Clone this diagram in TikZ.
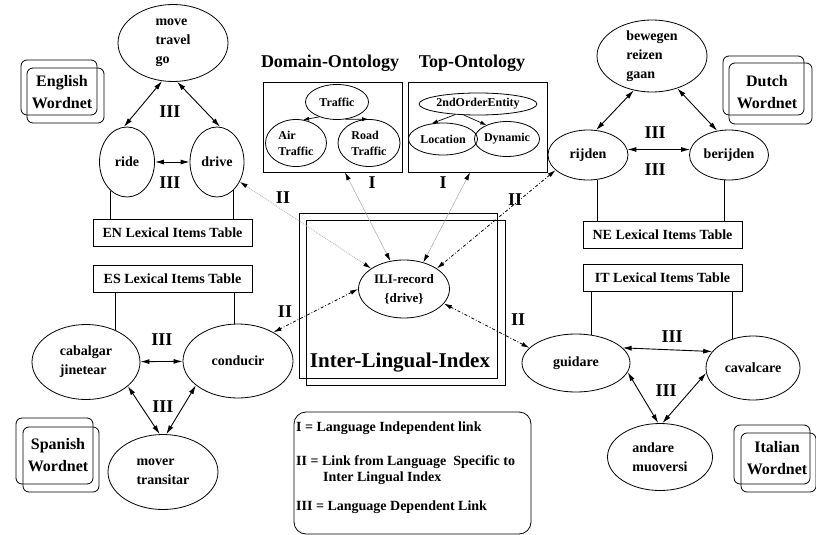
\documentclass[tikz,border=0pt]{standalone}
\usepackage{fontspec}
\setmainfont{Liberation Serif}
\usetikzlibrary{arrows.meta,shapes.geometric,positioning}

\tikzset{
  syn/.style={draw, ellipse, line width=0.8pt, inner sep=0pt, align=left,
    font=\fontsize{14}{19}\selectfont\bfseries},
  ontosyn/.style={syn, font=\fontsize{12}{16}\selectfont\bfseries},
  lexbox/.style={draw, line width=0.8pt, minimum width=159pt, minimum height=27pt,
    inner sep=0pt, font=\fontsize{14}{17}\selectfont\bfseries},
  ontobox/.style={draw, line width=0.8pt, minimum width=139pt, minimum height=90pt},
  iliframe/.style={draw, line width=0.9pt, minimum width=198pt, minimum height=165pt},
  wnframe/.style={draw, line width=0.8pt, rounded corners=6pt, inner sep=0pt},
  wntext/.style={align=center, inner sep=0pt, font=\fontsize{16}{22}\selectfont\bfseries},
  linklbl/.style={inner sep=0pt, font=\fontsize{18}{20}\selectfont\bfseries},
  ontotitle/.style={inner sep=0pt, font=\fontsize{18}{20}\selectfont\bfseries},
  legtext/.style={anchor=west, inner sep=0pt, align=left,
    font=\fontsize{14}{16}\selectfont\bfseries},
  rel/.style={{Latex[length=9pt,width=5pt]}-{Latex[length=9pt,width=5pt]}, line width=0.9pt},
  isa/.style={-{Latex[length=6pt,width=4pt]}, line width=0.7pt},
  ili/.style={{Latex[length=8pt,width=4.5pt,color=black]}-{Latex[length=8pt,width=4.5pt,color=black]}},
  ontolink/.style={ili, draw=gray!70, line width=0.5pt},
  enlink/.style={ili, draw=gray!55, line width=0.9pt, densely dotted},
  langlink/.style={ili, line width=0.8pt, dash dot},
}

\begin{document}
\begin{tikzpicture}[x=1pt,y=-1pt]
\useasboundingbox (0,0) rectangle (816,535);

\node[syn, minimum width=110pt, minimum height=77pt] (move) at (173,43) {move\\travel\\go};
\node[syn, minimum width=55pt, minimum height=70pt] (ride) at (127,162) {ride};
\node[syn, minimum width=54pt, minimum height=70pt] (drive) at (217,162) {drive};
\node[lexbox] (enlex) at (172.5,233) {EN Lexical Items Table};
\node[wnframe, minimum width=76pt, minimum height=55pt] (enwn) at (59,87.5) {};
\node[wnframe, minimum width=77pt, minimum height=55pt] (enwn2) at (65.5,95.5) {};
\node[wntext] (enwnlbl) at (62,92) {English\\Wordnet};

\node[lexbox] (eslex) at (172.5,278.5) {ES Lexical Items Table};
\node[syn, minimum width=108pt, minimum height=75pt] (cabalgar) at (86,362) {cabalgar\\jinetear};
\node[syn, minimum width=110pt, minimum height=74pt] (conducir) at (238,361) {conducir};
\node[syn, minimum width=110pt, minimum height=75pt] (mover) at (163,472) {mover\\transitar};
\node[wnframe, minimum width=77pt, minimum height=66pt] (eswn) at (54.5,451) {};
\node[wnframe, minimum width=76pt, minimum height=65pt] (eswn2) at (61,459.5) {};
\node[wntext] (eswnlbl) at (58,455) {Spanish\\Wordnet};

\node[syn, minimum width=110pt, minimum height=72pt] (bewegen) at (652,56) {bewegen\\reizen\\gaan};
\node[syn, minimum width=80pt, minimum height=50pt] (rijden) at (588,155) {rijden};
\node[syn, minimum width=79pt, minimum height=50pt] (berijden) at (729,155) {berijden};
\node[lexbox] (nelex) at (662.5,235) {NE Lexical Items Table};
\node[wnframe, minimum width=81pt, minimum height=59pt] (nlwn) at (763.5,85.5) {};
\node[wnframe, minimum width=83pt, minimum height=61pt] (nlwn2) at (770.5,93.5) {};
\node[wntext] (nlwnlbl) at (767,92) {Dutch\\Wordnet};

\node[lexbox] (itlex) at (662.5,277.5) {IT Lexical Items Table};
\node[syn, minimum width=108pt, minimum height=58pt] (guidare) at (576,363) {guidare};
\node[syn, minimum width=94pt, minimum height=64pt] (cavalcare) at (753,368) {cavalcare};
\node[syn, minimum width=105pt, minimum height=67pt] (andare) at (660,457) {andare\\muoversi};
\node[wnframe, minimum width=76pt, minimum height=59pt] (itwn) at (772,454.5) {};
\node[wnframe, minimum width=75pt, minimum height=59pt] (itwn2) at (778.5,462.5) {};
\node[wntext] (itwnlbl) at (777,458) {Italian\\Wordnet};

\node[ontotitle] (domaintitle) at (330,63) {Domain-Ontology};
\node[ontotitle] (toptitle) at (472,63) {Top-Ontology};
\node[ontobox] (domainbox) at (332.5,127) {};
\node[ontobox] (topbox) at (477.5,127) {};
\node[ontosyn, minimum width=63pt, minimum height=35pt] (traffic) at (337,102) {Traffic};
\node[ontosyn, minimum width=61pt, minimum height=47pt] (air) at (296,143) {Air\\Traffic};
\node[ontosyn, minimum width=62pt, minimum height=47pt] (road) at (369,143) {Road\\Traffic};
\node[ontosyn, minimum width=107pt, minimum height=22pt] (second) at (478,104) {2ndOrderEntity};
\node[ontosyn, minimum width=69pt, minimum height=32pt] (location) at (443,139) {Location};
\node[ontosyn, minimum width=60pt, minimum height=35pt] (dynamic) at (507,139) {Dynamic};

\node[iliframe] (iliA) at (398,295.5) {};
\node[iliframe, minimum width=199pt] (iliB) at (405.5,302.5) {};
\node[inner sep=0pt, font=\fontsize{21}{24}\selectfont\bfseries] (ilititle) at (400,363) {Inter-Lingual-Index};
\node[syn, align=center, minimum width=91pt, minimum height=58pt,
  font=\fontsize{13}{19}\selectfont\bfseries] (ili) at (404,289) {ILI-record\\\{drive\}};

\node[draw, line width=0.8pt, rounded corners=12pt, minimum width=237pt, minimum height=122pt] (legend) at (412.5,473) {};
\node[legtext] (legI) at (296,428) {I = Language Independent link};
\node[legtext] (legII) at (296,470) {II = Link from Language\ \ Specific to\\\hspace*{27pt}Inter Lingual Index};
\node[legtext] (legIII) at (296,507) {III = Language Dependent Link};

\draw[rel] (move.254) -- (ride.95);
\draw[rel] (move.276) -- (drive.85);
\draw[rel] (ride) -- (drive);
\draw[line width=0.8pt] (ride.240) -- (ride.240 |- enlex.north);
\draw[line width=0.8pt] (drive.300) -- (drive.300 |- enlex.north);
\draw[line width=0.8pt] (cabalgar.48) -- (cabalgar.48 |- eslex.south);
\draw[line width=0.8pt] (conducir.95) -- (conducir.95 |- eslex.south);
\draw[rel] (cabalgar) -- (conducir);
\draw[rel] (cabalgar.-30) -- (mover.95);
\draw[rel] (conducir.210) -- (mover.85);

\draw[rel] (bewegen.242) -- (rijden.72);
\draw[rel] (bewegen.-52) -- (berijden.116);
\draw[rel] (rijden.8) -- (berijden.172);
\draw[line width=0.8pt] (rijden.-70) -- (rijden.-70 |- nelex.north);
\draw[line width=0.8pt] (berijden.-100) -- (berijden.-100 |- nelex.north);
\draw[line width=0.8pt] (guidare.62) -- (guidare.62 |- itlex.south);
\draw[line width=0.8pt] (cavalcare.126) -- (cavalcare.126 |- itlex.south);
\draw[rel] (guidare.18) -- (cavalcare.158);
\draw[rel] (guidare.-10) -- (andare.93);
\draw[rel] (cavalcare.186) -- (andare.86);

\draw[isa] (traffic.220) -- (air.73);
\draw[isa] (traffic.296) -- (road.92);
\draw[isa] (second.205) -- (location.126);
\draw[isa] (second.218) -- (dynamic.146);

\draw[enlink] (drive.-41) -- (ili.148);
\draw[ontolink] ([xshift=12.5pt]domainbox.south) -- (ili.116);
\draw[ontolink] ([xshift=-7.5pt]topbox.south) -- (ili.54);
\draw[langlink] (rijden.205) -- (ili.32);
\draw[langlink] (ili.180) -- (conducir.39);
\draw[langlink] (ili.-20) -- (guidare.162);

\node[linklbl] (iiiEN1) at (170,112) {III};
\node[linklbl] (iiiEN2) at (170,183) {III};
\node[linklbl] (iiiES1) at (162,340) {III};
\node[linklbl] (iiiES2) at (163,407) {III};
\node[linklbl] (iiiNE1) at (655,133) {III};
\node[linklbl] (iiiNE2) at (655,170) {III};
\node[linklbl] (iiiIT1) at (672,337) {III};
\node[linklbl] (iiiIT2) at (666,391) {III};
\node[linklbl] (iDom) at (372,183) {I};
\node[linklbl] (iTop) at (443,183) {I};
\node[linklbl] (iiEN) at (283,198) {II};
\node[linklbl] (iiNE) at (515,200) {II};
\node[linklbl] (iiES) at (285,312) {II};
\node[linklbl] (iiIT) at (518,320) {II};
\end{tikzpicture}
\end{document}
